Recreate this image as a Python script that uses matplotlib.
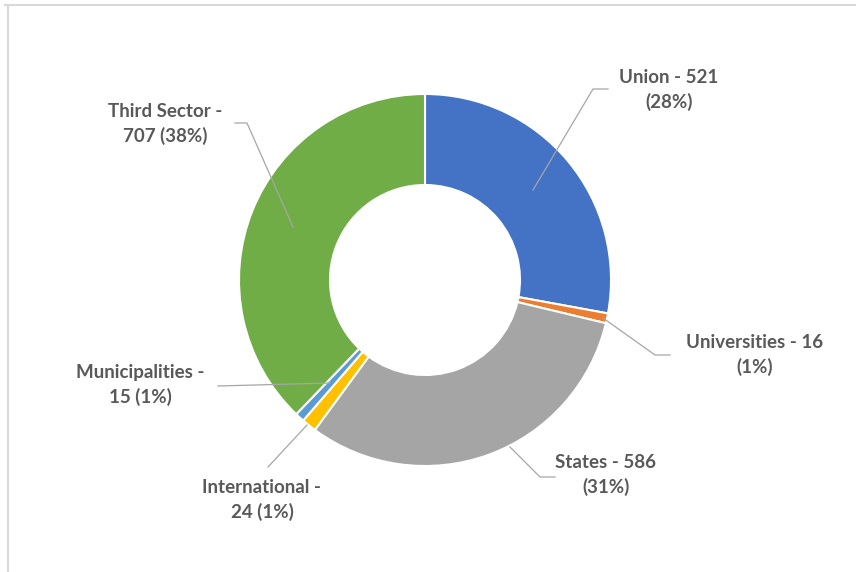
import numpy as np
from matplotlib import pyplot as plt
from matplotlib.lines import Line2D

labels = ['Union', 'Universities', 'States', 'International', 'Municipalities', 'Third Sector']
values = [521, 16, 586, 24, 15, 707]
pcts = [28, 1, 31, 1, 1, 38]
colors = ['#4472C4', '#ED7D31', '#A5A5A5', '#FFC000', '#5B9BD5', '#70AD47']
texts = ['Union - 521\n(28%)', 'Universities - 16\n(1%)', 'States - 586\n(31%)',
         'International -\n24 (1%)', 'Municipalities -\n15 (1%)', 'Third Sector -\n707 (38%)']

W, H = 856, 572
fig = plt.figure(figsize=(W/100, H/100), dpi=100)
ax = fig.add_axes([0, 0, 1, 1])

cx, cy, R = 425, H-280, 186
ax.pie(values, colors=colors, startangle=90, counterclock=False, center=(cx, cy), radius=R,
       wedgeprops=dict(width=91, edgecolor='white', linewidth=1.5), frame=True)
ax.set_xlim(0, W)
ax.set_ylim(0, H)
ax.set_aspect('equal')
ax.axis('off')

# label positions (pixel, top-left origin) and leader line points
lab_pos = [(669, 90), (755, 355), (606, 475), (262, 500), (140, 385), (165, 124)]
leaders = [
    [(533, 190), (593, 89), (608, 89)],
    [(603, 318), (655, 355), (670, 355)],
    [(510, 447), (540, 477), (555, 477)],
    [(307, 425), (268, 467)],
    [(330, 383), (218, 386)],
    [(293, 227), (247, 123), (235, 123)],
]
for t, (x, y), pts in zip(texts, lab_pos, leaders):
    ax.text(x, H-y, t, ha='center', va='center', fontsize=13.5, fontweight='bold',
            color='#595959', family=['Lato', 'DejaVu Sans'], linespacing=1.45)
    xs = [p[0] for p in pts]
    ys = [H-p[1] for p in pts]
    ax.plot(xs, ys, color='#A6A6A6', lw=0.9)

# chart area border (top and left)
fig.add_artist(Line2D([5/W, 1], [1-5/H, 1-5/H], transform=fig.transFigure, color='#D9D9D9', lw=1.5))
fig.add_artist(Line2D([8/W, 8/W], [0, 1-5/H], transform=fig.transFigure, color='#D9D9D9', lw=1.5))

fig.savefig('out.png', dpi=100, facecolor='white')
